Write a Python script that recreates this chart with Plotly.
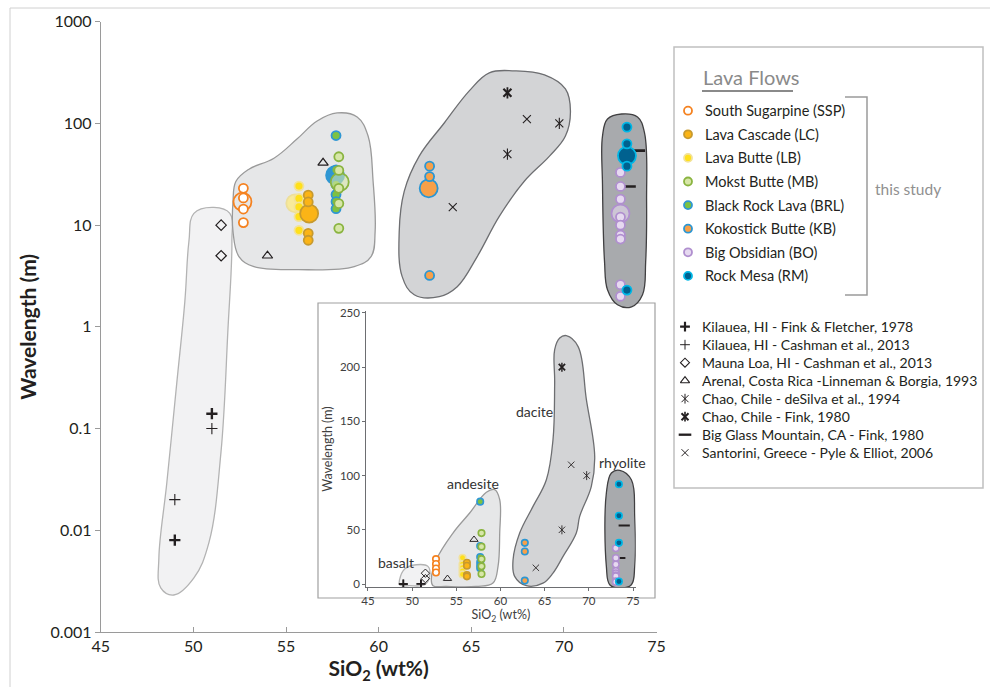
import plotly.graph_objects as go

FONT = "Lato"
W, H = 990, 687

# ---------------- DATA ----------------
# Lava flows (this study)
flow_names = ["South Sugarpine (SSP)", "Lava Cascade (LC)", "Lava Butte (LB)", "Mokst Butte (MB)",
              "Black Rock Lava (BRL)", "Kokostick Butte (KB)", "Big Obsidian (BO)", "Rock Mesa (RM)"]
ssp_sio2 = 52.7
ssp_wl = [23, 18.5, 14.4, 10.6]
lc_sio2 = 56.2
lc_wl = [19.7, 16.9, 8.3, 7.1]
lb_sio2 = 55.7
lb_wl = [24.2, 18.3, 15.1, 12.1, 8.9]
mb_sio2 = 57.85
mb_wl = [47, 34.5, 23, 16.3, 9.3]
brl_sio2 = 57.7
brl_wl = [76, 35, 25, 20, 17, 14.5]
kb_sio2 = 62.75
kb_wl = [38, 30, 3.2]
bo_sio2 = 73.05
bo_wl = [33, 24, 18, 12, 10, 8, 7.3, 2.6, 2.0]
rm_sio2 = 73.4
rm_wl = [92, 63, 38, 2.3]
# flow averages (large symbols in main panel)
mean_sio2 = [52.65, 56.25, 55.5, 57.9, 57.65, 62.7, 73.05, 73.4]
mean_wl = [17, 13, 16.4, 26.5, 31, 23, 13, 48]

# Literature data
kil_ff_sio2 = [51.0, 49.0]; kil_ff_wl = [0.14, 0.008]
kil_c_sio2 = [51.0, 49.0]; kil_c_wl = [0.1, 0.02]
ml_sio2 = [51.5, 51.5]; ml_wl = [10, 5]
ar_sio2 = [57.0, 54.0]; ar_wl = [41, 5]
chds_sio2 = [69.75, 66.95]; chds_wl = [100, 50]
chf_sio2 = [66.95]; chf_wl = [200]
bgm_sio2 = [74.0, 73.5]; bgm_wl = [54, 24]
san_sio2 = [68.0, 64.0]; san_wl = [110, 15]
lit_names = ["Kilauea, HI - Fink & Fletcher, 1978", "Kilauea, HI - Cashman et al., 2013",
             "Mauna Loa, HI - Cashman et al., 2013", "Arenal, Costa Rica -Linneman & Borgia, 1993",
             "Chao, Chile - deSilva et al., 1994", "Chao, Chile - Fink, 1980",
             "Big Glass Mountain, CA - Fink, 1980", "Santorini, Greece - Pyle & Elliot, 2006"]

# Composition-field outlines (SiO2, wavelength) - main (log) panel
basalt_hx = [50.03, 51.11, 51.97, 52.08, 51.86, 51.49, 50.84, 50.03, 48.95, 48.24, 48.14, 48.57, 49.11, 49.54, 49.76]
basalt_hy = [13.05, 14.95, 13.05, 6.9, 0.892, 0.0583, 0.00755, 0.0034, 0.00231, 0.00271, 0.00537, 0.0295, 0.286, 1.77, 6.9]
andes_hx = [52.30, 53.0, 54.35, 55.59, 56.68, 57.76, 58.84, 59.43, 59.70, 59.81, 59.59, 58.68, 55.70, 53.27, 52.46, 52.14, 52.14]
andes_hy = [27.0, 35.5, 45.5, 70.1, 105.6, 126.7, 115.6, 75.1, 27.0, 8.66, 4.91, 3.91, 3.65, 3.91, 4.91, 8.66, 17.1]
dac_hx = [65.97, 67.32, 68.95, 70.08, 70.35, 70.08, 69.22, 67.86, 66.51, 65.32, 64.24, 63.27, 61.92, 61.27, 61.11, 61.38, 62.19, 63.54, 64.89]
dac_hy = [314.5, 329, 300.5, 218.6, 132.6, 75.1, 47.7, 27.0, 12.2, 4.91, 2.48, 1.98, 2.07, 3.12, 8.66, 21.5, 47.7, 100.9, 208.8]
rhy_hx = [73.11, 73.97, 74.35, 74.46, 74.41, 74.24, 73.65, 72.89, 72.35, 72.19, 72.08, 72.08, 72.35]
rhy_hy = [123.8, 115.6, 80.4, 17.1, 4.38, 2.07, 1.575, 1.65, 2.32, 4.38, 25.2, 75.1, 110.5]
# inset (linear) panel
i_basalt_hx = [48.58, 49.15, 50.47, 51.79, 51.98, 51.42, 49.72, 48.58]
i_basalt_hy = [4.0, 13.8, 17.8, 16.3, 7.1, -0.6, -1.5, -0.6]
i_andes_hx = [52.17, 52.74, 54.62, 56.51, 58.40, 59.34, 59.91, 59.91, 59.72, 59.15, 57.26, 53.87, 52.36]
i_andes_hy = [4.0, 22.4, 47.0, 65.5, 84.6, 87.0, 77.8, 47.0, 16.3, 0.9, -2.2, -2.2, -1.5]
i_dac_hx = [67.45, 68.77, 69.72, 70.66, 70.28, 68.96, 68.58, 67.08, 65.94, 64.81, 62.92, 61.60, 61.42, 62.17, 63.68, 65.19, 65.94, 66.13, 66.13, 66.70]
i_dac_hy = [229.1, 219.2, 170.0, 117.8, 90.1, 62.4, 47.0, 25.5, 10.1, 0.9, -1.5, 7.1, 22.4, 47.0, 71.6, 96.2, 133.1, 185.4, 216.2, 226.9]
i_rhy_hx = [73.49, 74.81, 75.19, 75.19, 74.81, 73.49, 72.36, 71.98, 71.98, 72.55]
i_rhy_hy = [104.9, 96.2, 62.4, 16.3, -0.6, -3.7, -0.6, 16.3, 84.0, 102.4]
field_labels = ["basalt", "andesite", "dacite", "rhyolite"]
field_label_sio2 = [48.2, 56.9, 63.9, 73.75]
field_label_wl = [20, 93, 159, 112]

x_ticks = [45, 50, 55, 60, 65, 70, 75]
y_ticks = [0.001, 0.01, 0.1, 1, 10, 100, 1000]
y_ticktext = ["0.001", "0.01", "0.1", "1", "10", "100", "1000"]
inset_yticks = [0, 50, 100, 150, 200, 250]

# ---------------- STYLES ----------------
flow_fill = ["#ffffff", "#fbb416", "#ffe01b", "#d7e6a8", "#7dc242", "#f7a049", "#e6d9f0", "#00618f"]
flow_line = ["#f58220", "#c79a2e", "#f2e29a", "#8ab440", "#2f97d3", "#2b96d3", "#b08fcf", "#00b7e6"]
mean_fill = ["rgba(255,255,255,0)", "#fbb416", "#f8ea9a", "rgba(215,230,168,0.6)", "#2f97d3", "#f7a049", "rgba(230,217,240,0.6)", "#00618f"]
flow_sio2 = [ssp_sio2, lc_sio2, lb_sio2, mb_sio2, brl_sio2, kb_sio2, bo_sio2, rm_sio2]
flow_wl = [ssp_wl, lc_wl, lb_wl, mb_wl, brl_wl, kb_wl, bo_wl, rm_wl]
draw_order = [0, 2, 1, 4, 3, 5, 6, 7]

fig = go.Figure()

def hull(xs, ys, fill, line, xa, ya):
    fig.add_trace(go.Scatter(x=xs + xs[:1], y=ys + ys[:1], mode="lines", fill="toself",
                             fillcolor=fill, line=dict(color=line, width=1.3, shape="spline", smoothing=1.1),
                             xaxis=xa, yaxis=ya, hoverinfo="skip", showlegend=False))

hull_fill = ["#f2f2f3", "#e6e7e8", "#d3d4d6", "#a8aaad"]
hull_line = ["#b3b3b3", "#9a9a9a", "#6d6e71", "#414042"]
main_hulls = [(basalt_hx, basalt_hy), (andes_hx, andes_hy), (dac_hx, dac_hy), (rhy_hx, rhy_hy)]
inset_hulls = [(i_basalt_hx, i_basalt_hy), (i_andes_hx, i_andes_hy), (i_dac_hx, i_dac_hy), (i_rhy_hx, i_rhy_hy)]
for k, (hx, hy) in enumerate(main_hulls):
    hull(hx, hy, hull_fill[k], hull_line[k], "x", "y")
for k, (hx, hy) in enumerate(inset_hulls):
    hull(hx, hy, hull_fill[k], hull_line[k], "x2", "y2")

lit = [
    (kil_ff_sio2, kil_ff_wl, [("cross-thin-open", 2.4)], 8),
    (kil_c_sio2, kil_c_wl, [("cross-thin-open", 1.1)], 8),
    (ml_sio2, ml_wl, [("diamond-open", 1.2)], 8),
    (ar_sio2, ar_wl, [("triangle-up-open", 1.2)], 9),
    (chds_sio2, chds_wl, [("x-thin-open", 1.1), ("line-ns-open", 1.1)], 8),
    (chf_sio2, chf_wl, [("x-thin-open", 2.2), ("line-ns-open", 1.8)], 8),
    (bgm_sio2, bgm_wl, [("line-ew-open", 2.6)], 10),
    (san_sio2, san_wl, [("x-thin-open", 1.1)], 8),
]

def add_lit(xa, ya, scale):
    for xs, ys, syms, sz in lit:
        for sym, lw in syms:
            fig.add_trace(go.Scatter(x=xs, y=ys, mode="markers", xaxis=xa, yaxis=ya, showlegend=False,
                                     marker=dict(symbol=sym, size=sz * scale, color="#231f20",
                                                 line=dict(color="#231f20", width=lw * (0.8 if scale < 1 else 1)))))

def add_flows(xa, ya, size, lw, with_mean):
    for i in draw_order:
        if with_mean:
            fig.add_trace(go.Scatter(x=[mean_sio2[i]], y=[mean_wl[i]], mode="markers", xaxis=xa, yaxis=ya,
                                     showlegend=False,
                                     marker=dict(symbol="circle", size=18, color=mean_fill[i],
                                                 line=dict(color=flow_line[i] if i != 2 else "#eddf9a", width=1.8))))
        fig.add_trace(go.Scatter(x=[flow_sio2[i]] * len(flow_wl[i]), y=flow_wl[i], mode="markers",
                                 xaxis=xa, yaxis=ya, showlegend=False,
                                 marker=dict(symbol="circle", size=size, color=flow_fill[i],
                                             line=dict(color=flow_line[i], width=lw))))

add_lit("x", "y", 1.0)
add_flows("x", "y", 9, 1.8, True)
add_lit("x2", "y2", 0.8)
add_flows("x2", "y2", 6.5, 1.6, False)

# ---------------- LEGEND (manual, pixel layout) ----------------
def px(xp): return xp / W
def py(yp): return 1 - yp / H

leg1_x, leg1_y0, leg1_dy = 688, 110.7, 23.6
leg2_x, leg2_y0, leg2_dy = 685, 326.7, 18.0
for i in range(8):
    yy = leg1_y0 + i * leg1_dy
    fig.add_trace(go.Scatter(x=[leg1_x], y=[yy], mode="markers", xaxis="x3", yaxis="y3", showlegend=False,
                             hoverinfo="skip",
                             marker=dict(size=8, color=flow_fill[i], line=dict(color=flow_line[i], width=1.8))))
    fig.add_annotation(x=px(703), y=py(yy), xref="paper", yref="paper", text=flow_names[i], showarrow=False,
                       xanchor="left", yanchor="middle", font=dict(family=FONT, size=14.5, color="#231f20"))
for j, (xs, ys, syms, sz) in enumerate(lit):
    yy = leg2_y0 + j * leg2_dy
    for sym, lw in syms:
        fig.add_trace(go.Scatter(x=[leg2_x], y=[yy], mode="markers", xaxis="x3", yaxis="y3", showlegend=False,
                                 hoverinfo="skip",
                                 marker=dict(symbol=sym, size=sz - 1, color="#231f20",
                                             line=dict(color="#231f20", width=lw * 0.9))))
    fig.add_annotation(x=px(700), y=py(yy), xref="paper", yref="paper", text=lit_names[j], showarrow=False,
                       xanchor="left", yanchor="middle", font=dict(family=FONT, size=14, color="#231f20"))

fig.add_annotation(x=px(701), y=py(77), xref="paper", yref="paper", text="Lava Flows", showarrow=False,
                   xanchor="left", yanchor="middle", font=dict(family=FONT, size=20, color="#8a8a8a"))
fig.add_annotation(x=px(873), y=py(189), xref="paper", yref="paper", text="this study", showarrow=False,
                   xanchor="left", yanchor="middle", font=dict(family=FONT, size=15.5, color="#909090"))

for k in range(4):
    fig.add_annotation(x=field_label_sio2[k], y=field_label_wl[k], xref="x2", yref="y2", text=field_labels[k],
                       showarrow=False, font=dict(family=FONT, size=14, color="#333333"))

shapes = [
    dict(type="rect", xref="paper", yref="paper", x0=px(10), y0=py(8), x1=1.05, y1=-0.05,
         line=dict(color="#d0d0d0", width=1)),
    dict(type="rect", xref="paper", yref="paper", x0=px(318), y0=py(598), x1=px(655), y1=py(303),
         fillcolor="white", line=dict(color="#a0a0a0", width=1.2), layer="below"),
    dict(type="rect", xref="paper", yref="paper", x0=px(674), y0=py(488), x1=px(983), y1=py(47),
         line=dict(color="#c0c0c0", width=1.5)),
    dict(type="line", xref="paper", yref="paper", x0=px(702), y0=py(91), x1=px(793), y1=py(91),
         line=dict(color="#8a8a8a", width=2)),
    dict(type="path", xref="paper", yref="paper",
         path=f"M {px(845)} {py(97)} L {px(867)} {py(97)} L {px(867)} {py(295)} L {px(845)} {py(295)}",
         line=dict(color="#9a9a9a", width=1.5)),
]

axis_common = dict(showgrid=False, zeroline=False, showline=True, automargin=False)
fig.update_layout(
    width=W, height=H, margin=dict(l=0, r=0, t=0, b=0),
    paper_bgcolor="white", plot_bgcolor="rgba(0,0,0,0)",
    font=dict(family=FONT, color="#231f20"),
    shapes=shapes, showlegend=False,
    xaxis=dict(domain=[100.7 / W, 656.6 / W], range=[45, 75], tickvals=x_ticks, ticks="inside", ticklen=5,
               linecolor="#9a9a9a", tickcolor="#9a9a9a", tickfont=dict(size=16, color="#231f20"),
               title=dict(text="<b>SiO<sub>2</sub> (wt%)</b>", font=dict(size=21, color="#231f20"), standoff=6),
               anchor="y", **axis_common),
    yaxis=dict(domain=[1 - 632 / H, 1 - 21.7 / H], type="log", range=[-3, 3], tickvals=y_ticks,
               ticktext=y_ticktext, ticks="outside", ticklen=5, linecolor="#9a9a9a", tickcolor="#9a9a9a",
               tickfont=dict(size=16, color="#231f20"),
               title=dict(text="<b>Wavelength (m)</b>", font=dict(size=21, color="#231f20"), standoff=8),
               anchor="x", **axis_common),
    xaxis2=dict(domain=[366.2 / W, 635.7 / W], range=[44.8, 75.3], tickvals=x_ticks, ticks="outside", ticklen=3,
                linecolor="#6d6e71", tickcolor="#6d6e71", tickfont=dict(size=11.5, color="#404040"),
                title=dict(text="SiO<sub>2</sub> (wt%)", font=dict(size=12.5, color="#404040"), standoff=2),
                anchor="y2", **axis_common),
    yaxis2=dict(domain=[1 - 587.3 / H, 1 - 310.8 / H], range=[-3, 252], tickvals=inset_yticks, ticks="outside",
                ticklen=3, linecolor="#6d6e71", tickcolor="#6d6e71", tickfont=dict(size=11.5, color="#404040"),
                title=dict(text="Wavelength (m)", font=dict(size=12.5, color="#404040"), standoff=4),
                anchor="x2", **axis_common),
    xaxis3=dict(domain=[0, 1], range=[0, W], visible=False, anchor="y3", fixedrange=True),
    yaxis3=dict(domain=[0, 1], range=[H, 0], visible=False, anchor="x3", fixedrange=True),
)

fig.write_html("out.html")
